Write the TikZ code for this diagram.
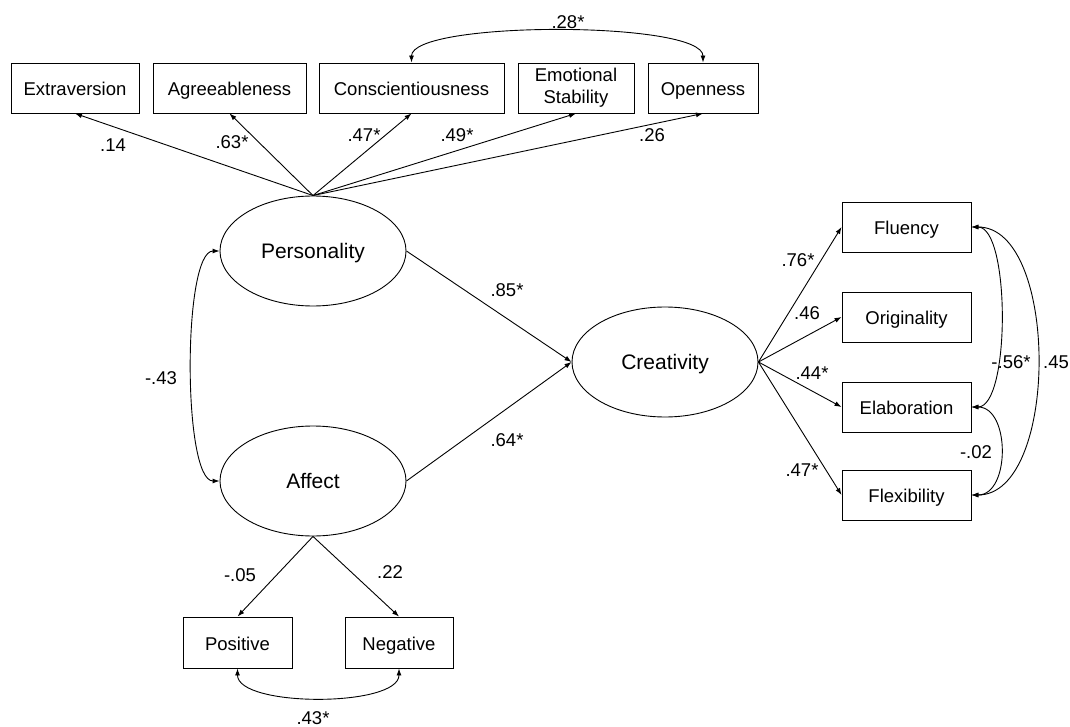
\documentclass[tikz,border=0pt]{standalone}
\usepackage{fontspec}
\setmainfont{Liberation Sans}
\usetikzlibrary{arrows.meta,shapes.geometric}

\begin{document}
\begin{tikzpicture}[x=1pt, y=-1pt, line width=0.9pt,
		obs/.style={draw, rectangle, inner sep=0pt, minimum height=50pt, align=center, font=\fontsize{18.5}{22}\selectfont},
		oneline/.style={obs, text height=15pt, text depth=0pt},
		lat/.style={draw, ellipse, inner sep=0pt, minimum width=186pt, minimum height=110pt, text height=15.5pt, text depth=0pt, font=\fontsize{21}{25}\selectfont},
		coef/.style={inner sep=0pt, font=\fontsize{18.5}{22}\selectfont},
		load/.style={-{Latex[length=7pt,width=5pt]}},
		covar/.style={{Latex[length=7pt,width=5pt]}-{Latex[length=7pt,width=5pt]}}]
			\useasboundingbox (0,0) rectangle (1070,727);
			% Specify the positions of the latent variables:
			\coordinate (L0) at (313, 251);
			\coordinate (L1) at (313, 481);
			\coordinate (L2) at (665, 362);
			\node[lat] (pers) at (L0) {Personality};
			\node[lat] (aff) at (L1) {Affect};
			\node[lat] (crea) at (L2) {Creativity};
			% Specify the positions of the personality boxes:
			\coordinate (P0) at (75, 88);
			\coordinate (P1) at (229.5, 88);
			\coordinate (P2) at (411.5, 88);
			\coordinate (P3) at (576, 88);
			\coordinate (P4) at (703, 88);
			\node[oneline, minimum width=128pt] (extra) at (P0) {Extraversion};
			\node[oneline, minimum width=153pt] (agree) at (P1) {Agreeableness};
			\node[oneline, minimum width=185pt] (consc) at (P2) {Conscientiousness};
			\node[obs, minimum width=116pt] (emot) at (P3) {Emotional\\Stability};
			\node[oneline, minimum width=110pt] (open) at (P4) {Openness};
			% Specify the positions of the creativity boxes:
			\coordinate (R0) at (906.5, 227);
			\coordinate (R1) at (906.5, 317);
			\coordinate (R2) at (906.5, 407);
			\coordinate (R3) at (906.5, 495);
			\node[oneline, minimum width=129pt] (flu) at (R0) {Fluency};
			\node[oneline, minimum width=129pt] (orig) at (R1) {Originality};
			\node[oneline, minimum width=129pt] (ela) at (R2) {Elaboration};
			\node[oneline, minimum width=129pt] (flex) at (R3) {Flexibility};
			% Specify the positions of the affect boxes:
			\coordinate (A0) at (237.5, 642.5);
			\coordinate (A1) at (399, 642.5);
			\node[oneline, minimum width=109pt, minimum height=51pt] (pos) at (A0) {Positive};
			\node[oneline, minimum width=108pt, minimum height=51pt] (neg) at (A1) {Negative};
			% Draw the loadings:
			\draw[load] (pers.north) -- (extra.south);
			\draw[load] (pers.north) -- (agree.south);
			\draw[load] (pers.north) -- (consc.south);
			\draw[load] (pers.north) -- (emot.south);
			\draw[load] (pers.north) -- (open.south);
			\draw[load] (pers.east) -- (crea.west);
			\draw[load] (aff.east) -- (crea.west);
			\draw[load] (crea.east) -- (flu.west);
			\draw[load] (crea.east) -- (orig.west);
			\draw[load] (crea.east) -- (ela.west);
			\draw[load] (crea.east) -- (flex.west);
			\draw[load] (aff.south) -- (pos.north);
			\draw[load] (aff.south) -- (neg.north);
			% Draw the covariances:
			\draw[covar] (consc.north) .. controls +(0,-42) and +(0,-42) .. (open.north);
			\draw[covar] (pers.west) .. controls +(-37,0) and +(-37,0) .. (aff.west);
			\draw[covar] (flu.east) .. controls +(39,0) and +(39,0) .. (ela.east);
			\draw[covar] (flu.east) .. controls +(88,0) and +(88,0) .. (flex.east);
			\draw[covar] (ela.east) .. controls +(39,0) and +(39,0) .. (flex.east);
			\draw[covar] (pos.south) .. controls +(0,39) and +(0,39) .. (neg.south);
			% Specify the position of the coefficients:
			\node[coef] (k28) at (568, 22) {.28*};
			\node[coef] (k14) at (113, 145) {.14};
			\node[coef] (k63) at (232, 142) {.63*};
			\node[coef] (k47a) at (364, 135) {.47*};
			\node[coef] (k49) at (457, 135) {.49*};
			\node[coef] (k26) at (652, 135) {.26};
			\node[coef] (k85) at (507, 290) {.85*};
			\node[coef] (k64) at (507, 440) {.64*};
			\node[coef] (k43a) at (161, 378) {-.43};
			\node[coef] (k76) at (798, 260) {.76*};
			\node[coef] (k46) at (807, 313) {.46};
			\node[coef] (k44) at (812, 373) {.44*};
			\node[coef] (k47b) at (802, 470) {.47*};
			\node[coef] (k56) at (1011, 362) {-.56*};
			\node[coef] (k45) at (1056, 362) {.45};
			\node[coef] (k02) at (976, 452) {-.02};
			\node[coef] (k05) at (240, 575) {-.05};
			\node[coef] (k22) at (390, 572) {.22};
			\node[coef] (k43b) at (313, 718) {.43*};
		\end{tikzpicture}
\end{document}
